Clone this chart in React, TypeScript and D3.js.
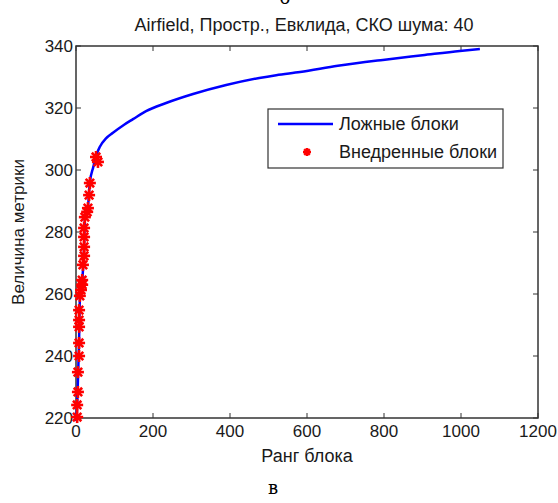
import React from 'react'
import * as d3 from 'd3'

// sorted metric of false blocks (rank, value)
const falseRanks = [0, 1, 3, 5, 8, 10, 16, 21, 23, 31, 36, 45, 52, 62, 78, 96, 125, 148, 182, 234, 304, 390, 476, 520, 582, 680, 797, 900, 997, 1049]
const falseValues = [219, 220, 224, 232, 245, 258, 264, 275, 284, 288, 296, 301, 304.5, 307.5, 310.2, 312, 314.6, 316.4, 319, 321.6, 324.5, 327.4, 329.7, 330.6, 331.6, 333.6, 335.5, 337, 338.4, 339]

// injected blocks
const injRanks = [52, 57, 36, 34, 31, 29, 23, 21, 21, 21, 21, 18, 16, 16, 13, 10, 8, 8, 8, 8, 8, 5, 5, 3, 3]
const injValues = [304.2, 302.6, 295.8, 291.9, 287.7, 286.5, 284.8, 281.3, 278.4, 275.2, 272.3, 269.4, 264.5, 263, 261.3, 259.4, 254.8, 251.6, 249.4, 244.2, 240, 234.8, 228.4, 224.2, 220.3]

const xTicks = [0, 200, 400, 600, 800, 1000, 1200]
const yTicks = [220, 240, 260, 280, 300, 320, 340]

const W = 558
const H = 503
const left = 76
const right = 538
const top = 46
const bottom = 418

const font = 'Liberation Sans, Arial, sans-serif'
const textColor = '#1a1a1a'

const Star = ({ x, y, s = 6, w = 2.6 }: { x: number; y: number; s?: number; w?: number }) => {
  const d = s * 0.7
  return (
    <g stroke="#ff0000" strokeWidth={w}>
      <line x1={x - s} y1={y} x2={x + s} y2={y} />
      <line x1={x} y1={y - s} x2={x} y2={y + s} />
      <line x1={x - d} y1={y - d} x2={x + d} y2={y + d} />
      <line x1={x - d} y1={y + d} x2={x + d} y2={y - d} />
    </g>
  )
}

export default function App() {
  const x = d3.scaleLinear().domain([0, 1200]).range([left, right])
  const y = d3.scaleLinear().domain([220, 340]).range([bottom, top])

  const pts: [number, number][] = falseRanks.map((r, i) => [r, falseValues[i]])
  const line = d3.line<[number, number]>()
    .x(d => x(d[0]))
    .y(d => y(d[1]))
    .curve(d3.curveMonotoneX)

  return (
    <svg width={W} height={H} style={{ position: 'absolute', left: 0, top: 0, background: '#fff' }}>
      <rect x={0} y={0} width={W} height={H} fill="#fff" />
      <text x={285} y={4} textAnchor="middle" fontFamily="DejaVu Serif, serif" fontSize={18} fill="#000">б</text>
      <text x={304} y={31} textAnchor="middle" fontFamily={font} fontSize={18} fill={textColor}>
        Airfield, Простр., Евклида, СКО шума: 40
      </text>

      {/* ticks */}
      {xTicks.map(t => (
        <g key={'x' + t}>
          <line x1={x(t)} x2={x(t)} y1={bottom} y2={bottom - 5} stroke="#333" />
          <line x1={x(t)} x2={x(t)} y1={top} y2={top + 5} stroke="#333" />
          <text x={x(t)} y={bottom + 19} textAnchor="middle" fontFamily={font} fontSize={17} fill={textColor}>{t}</text>
        </g>
      ))}
      {yTicks.map(t => (
        <g key={'y' + t}>
          <line x1={left} x2={left + 5} y1={y(t)} y2={y(t)} stroke="#333" />
          <line x1={right} x2={right - 5} y1={y(t)} y2={y(t)} stroke="#333" />
          <text x={left - 3} y={y(t) + 6} textAnchor="end" fontFamily={font} fontSize={17} fill={textColor}>{t}</text>
        </g>
      ))}

      <rect x={left} y={top} width={right - left} height={bottom - top} fill="none" stroke="#333" strokeWidth={1.5} />

      <path d={line(pts) || ''} fill="none" stroke="#0000ff" strokeWidth={2.5} />
      {injRanks.map((r, i) => (
        <Star key={i} x={x(r)} y={y(injValues[i])} />
      ))}

      {/* legend */}
      <rect x={268} y={109} width={235} height={59} fill="#fff" stroke="#333" strokeWidth={1.2} />
      <line x1={278} x2={333} y1={124} y2={124} stroke="#0000ff" strokeWidth={2.5} />
      <text x={339} y={130} fontFamily={font} fontSize={18} fill={textColor}>Ложные блоки</text>
      <Star x={307} y={152} s={4} w={2.4} />
      <text x={339} y={158} fontFamily={font} fontSize={18} fill={textColor}>Внедренные блоки</text>

      <text x={307} y={462} textAnchor="middle" fontFamily={font} fontSize={18} fill={textColor}>Ранг блока</text>
      <text transform={`translate(24,${(top + bottom) / 2}) rotate(-90)`} textAnchor="middle" fontFamily={font} fontSize={17} fill={textColor}>Величина метрики</text>

      <text x={273} y={494} textAnchor="middle" fontFamily="DejaVu Serif, serif" fontSize={18} fill="#000">в</text>
    </svg>
  )
}
